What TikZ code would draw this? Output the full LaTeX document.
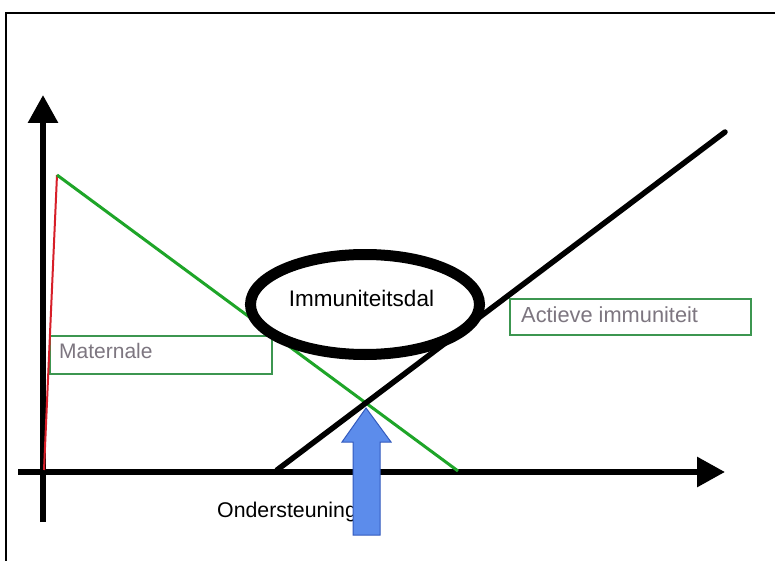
\documentclass[tikz,border=0pt]{standalone}
\usepackage{fontspec}
\setmainfont{Liberation Sans}
\usetikzlibrary{arrows.meta,shapes.geometric}
\definecolor{linegreen}{RGB}{30,165,40}
\definecolor{boxgreen}{RGB}{60,150,80}
\definecolor{redline}{RGB}{215,30,40}
\definecolor{labelgray}{RGB}{125,118,128}
\definecolor{arrowblue}{RGB}{92,140,235}
\definecolor{arrowedge}{RGB}{50,90,190}
\tikzset{
  axis/.style={line width=6pt,-{Triangle[length=28pt,width=29pt]}},
  curve/.style={line width=5.5pt,line cap=round},
  labelbox/.style={draw=boxgreen,line width=1.5pt,fill=white},
  labeltext/.style={anchor=base west,inner sep=0pt,text=labelgray,font=\fontsize{21}{24}\selectfont},
  blacktext/.style={inner sep=0pt,text=black},
  valley/.style={ellipse,draw=black,line width=11pt,fill=white,minimum width=229pt,minimum height=100pt,inner sep=0pt}
}
\begin{document}
\begin{tikzpicture}[x=1pt,y=-1pt]
\useasboundingbox (0,0) rectangle (775,561);
\fill[white] (0,0) rectangle (775,561);
\draw[line width=2pt] (6,13) rectangle (777,563);
% points
\coordinate (yb) at (43,522);
\coordinate (yt) at (43,95);
\coordinate (xl) at (18,472);
\coordinate (xr) at (725,472);
\coordinate (r0) at (44,470);
\coordinate (peak) at (57,175);
\coordinate (g1) at (458,471);
\coordinate (a0) at (277,470);
\coordinate (a1) at (725,132);
% boxes
\node[labelbox,minimum width=222pt,minimum height=38pt,anchor=north west,inner sep=0pt] (matbox) at (49,335) {};
\node[labelbox,minimum width=241pt,minimum height=36pt,anchor=north west,inner sep=0pt] (actbox) at (509,298) {};
% axes
\draw[axis] (yb) -- (yt);
\draw[axis] (xl) -- (xr);
% curves
\draw[redline,line width=2pt] (r0) -- (peak);
\draw[linegreen,line width=3pt] (peak) -- (g1);
\draw[curve] (a0) -- (a1);
% valley ellipse
\node[valley] (dal) at (365,304.5) {};
\node[blacktext,anchor=base,font=\fontsize{22.5}{26}\selectfont] (daltext) at (361.5,306) {Immuniteitsdal};
% labels
\node[labeltext] (mattext) at (59,358) {Maternale};
\node[labeltext,font=\fontsize{21.8}{25}\selectfont] (acttext) at (521,322) {Actieve immuniteit};
\node[blacktext,anchor=base west,font=\fontsize{21.3}{25}\selectfont] (ondtext) at (217,517) {Ondersteuning};
% support arrow
\draw[fill=arrowblue,draw=arrowedge,line width=1pt,line join=miter]
  (353,535) -- (353,442) -- (342,442) -- (366,408) -- (391,442) -- (380,442) -- (380,535) -- cycle;
\end{tikzpicture}
\end{document}
